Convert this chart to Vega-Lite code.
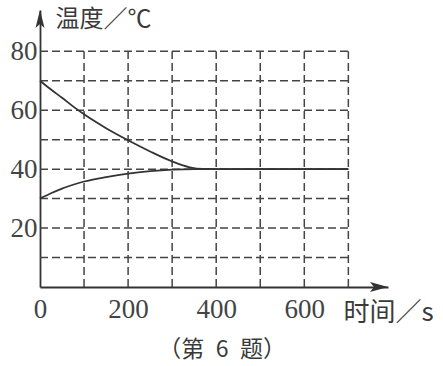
{
  "$schema": "https://vega.github.io/schema/vega-lite/v6.json",
  "width": 348,
  "height": 277,
  "autosize": {"type": "none"},
  "padding": {"left": 40, "top": 10, "right": 55, "bottom": 79},
  "background": "white",
  "config": {"view": {"stroke": null}},
  "title": {
    "text": "\u00a0（第\u20026\u2002题）\u00a0",
    "orient": "bottom",
    "anchor": "middle",
    "offset": 14,
    "dx": 8,
    "font": "Noto Sans CJK SC",
    "fontSize": 23,
    "fontWeight": "normal",
    "color": "#3a3a3a"
  },
  "datasets": {
    "hgrid": [{"v": 10}, {"v": 20}, {"v": 30}, {"v": 40}, {"v": 50}, {"v": 60}, {"v": 70}, {"v": 80}],
    "vgrid": [{"t": 100}, {"t": 200}, {"t": 300}, {"t": 400}, {"t": 500}, {"t": 600}, {"t": 700}],
    "curves": [
      {"s": "A", "t": 0, "T": 70}, {"s": "A", "t": 25, "T": 67}, {"s": "A", "t": 50, "T": 64.2},
      {"s": "A", "t": 75, "T": 61.3}, {"s": "A", "t": 100, "T": 58.6}, {"s": "A", "t": 150, "T": 53.9},
      {"s": "A", "t": 200, "T": 49.8}, {"s": "A", "t": 250, "T": 46}, {"s": "A", "t": 300, "T": 42.6},
      {"s": "A", "t": 340, "T": 40.6}, {"s": "A", "t": 370, "T": 40.05}, {"s": "A", "t": 400, "T": 40},
      {"s": "A", "t": 700, "T": 40},
      {"s": "B", "t": 0, "T": 30}, {"s": "B", "t": 25, "T": 31.8}, {"s": "B", "t": 50, "T": 33.4},
      {"s": "B", "t": 75, "T": 34.7}, {"s": "B", "t": 100, "T": 35.8}, {"s": "B", "t": 150, "T": 37.3},
      {"s": "B", "t": 200, "T": 38.5}, {"s": "B", "t": 250, "T": 39.3}, {"s": "B", "t": 300, "T": 39.8},
      {"s": "B", "t": 350, "T": 40}, {"s": "B", "t": 700, "T": 40}
    ],
    "arrows": [
      {"dir": "x", "t": 790, "T": 0},
      {"dir": "y", "t": 0, "T": 94}
    ]
  },
  "layer": [
    {
      "data": {"name": "hgrid"},
      "mark": {"type": "rule", "strokeDash": [8, 4], "strokeWidth": 1.5, "color": "#444"},
      "encoding": {
        "y": {"field": "v", "type": "quantitative", "scale": {"domain": [0, 94], "nice": false}},
        "x": {"datum": 0, "type": "quantitative"},
        "x2": {"datum": 700}
      }
    },
    {
      "data": {"name": "vgrid"},
      "mark": {"type": "rule", "strokeDash": [8, 4], "strokeWidth": 1.5, "color": "#444"},
      "encoding": {
        "x": {"field": "t", "type": "quantitative"},
        "y": {"datum": 0, "type": "quantitative"},
        "y2": {"datum": 80}
      }
    },
    {
      "data": {"name": "curves"},
      "mark": {"type": "line", "interpolate": "monotone", "strokeWidth": 1.8, "color": "#333"},
      "encoding": {
        "x": {
          "field": "t", "type": "quantitative",
          "scale": {"domain": [0, 790], "nice": false, "zero": true},
          "axis": {
            "values": [0, 200, 400, 600],
            "grid": false,
            "ticks": false,
            "domain": true,
            "domainColor": "#333",
            "domainWidth": 1.8,
            "labelFont": "Liberation Serif",
            "labelFontSize": 27,
            "labelColor": "#444",
            "labelPadding": 9,
            "labelFlush": false,
            "labelOverlap": false,
            "labelBound": false,
            "title": "时间／s",
            "titleFont": "Noto Sans CJK SC",
            "titleFontSize": 26,
            "titleFontWeight": "normal",
            "titleColor": "#3a3a3a",
            "titleAlign": "left",
            "titleBaseline": "middle",
            "titleAnchor": "start",
            "titleX": 303,
            "titleY": 25
          }
        },
        "y": {
          "field": "T", "type": "quantitative",
          "scale": {"domain": [0, 94], "nice": false, "zero": true},
          "axis": {
            "values": [20, 40, 60, 80],
            "grid": false,
            "ticks": false,
            "domain": true,
            "domainColor": "#333",
            "domainWidth": 1.8,
            "labelFont": "Liberation Serif",
            "labelFontSize": 27,
            "labelColor": "#444",
            "labelPadding": 3,
            "labelOverlap": false,
            "labelBound": false,
            "labelFlush": false,
            "title": "温度／℃",
            "titleFont": "Noto Sans CJK SC",
            "titleFontSize": 24,
            "titleFontWeight": "normal",
            "titleColor": "#3a3a3a",
            "titleAngle": 0,
            "titleAlign": "left",
            "titleBaseline": "middle",
            "titleAnchor": "end",
            "titleX": 15,
            "titleY": 9
          }
        },
        "detail": {"field": "s", "type": "nominal"}
      }
    },
    {
      "data": {"name": "arrows"},
      "transform": [{"filter": "datum.dir === 'x'"}],
      "mark": {"type": "point", "filled": true, "color": "#333", "opacity": 1, "size": 100, "shape": "M0,0L-3.6,-1L-2.8,0L-3.6,1Z"},
      "encoding": {
        "x": {"field": "t", "type": "quantitative"},
        "y": {"field": "T", "type": "quantitative"}
      }
    },
    {
      "data": {"name": "arrows"},
      "transform": [{"filter": "datum.dir === 'y'"}],
      "mark": {"type": "point", "filled": true, "color": "#333", "opacity": 1, "size": 100, "shape": "M0,0L-0.9,3.6L0,2.8L0.9,3.6Z"},
      "encoding": {
        "x": {"field": "t", "type": "quantitative"},
        "y": {"field": "T", "type": "quantitative"}
      }
    }
  ]
}
